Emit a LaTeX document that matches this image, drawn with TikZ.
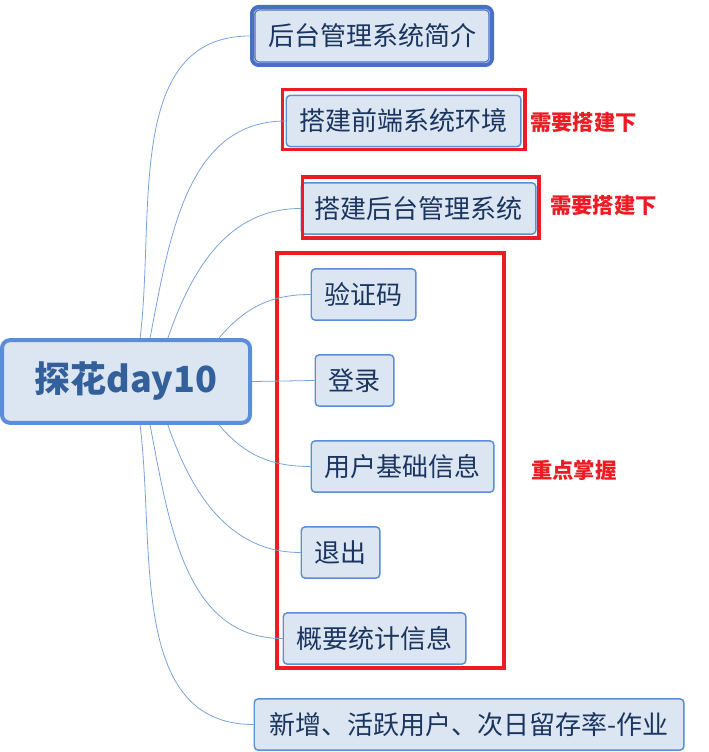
\documentclass[tikz,border=0pt]{standalone}
\usepackage{fontspec}
\setmainfont{Noto Sans CJK SC}
\definecolor{topicfill}{HTML}{DCE6F2}
\definecolor{topicline}{HTML}{5B8ED6}
\definecolor{topictext}{HTML}{1A3560}
\definecolor{roottext}{HTML}{33609A}
\definecolor{firstline}{HTML}{4A70C2}
\definecolor{branchline}{HTML}{7AA3DC}
\definecolor{notered}{HTML}{ED1C24}

\begin{document}
\begin{tikzpicture}[x=0.75pt,y=0.75pt,
topic/.style={draw=topicline,fill=topicfill,rounded corners=3pt,line width=1.1pt,inner xsep=10pt,minimum height=38.5pt,text=topictext,font=\fontsize{19.5}{19.5}\selectfont,anchor=west},
roottopic/.style={draw=topicline,fill=topicfill,rounded corners=6pt,line width=3pt,minimum width=186pt,minimum height=62pt,text=roottext,font=\bfseries\fontsize{27}{27}\selectfont},
branch/.style={draw=branchline,line width=0.6pt},
redbox/.style={draw=notered,line width=2.8pt},
note/.style={text=notered,font=\bfseries\fontsize{16}{16}\selectfont,anchor=west,inner sep=0pt}]

\useasboundingbox (0,0) rectangle (708,-752);

\draw (126,-381.5) node[roottopic] (root) {探花day10};

\draw (250,-36) node[topic,draw=firstline,line width=3pt,rounded corners=5pt,minimum height=43.5pt,inner xsep=12pt] (intro) {后台管理系统简介};
\draw[draw=firstline,line width=0.8pt,rounded corners=3pt] ([shift={(5,-5)}]intro.north west) rectangle ([shift={(-5,5)}]intro.south east);

\draw (285.5,-121) node[topic] (front) {搭建前端系统环境};
\draw (300.5,-208.5) node[topic] (back) {搭建后台管理系统};

\draw (310.5,-294.5) node[topic] (captcha) {验证码};
\draw (314.5,-380.5) node[topic] (login) {登录};
\draw (310.5,-466.5) node[topic] (userinfo) {用户基础信息};
\draw (300.5,-552.5) node[topic] (logout) {退出};
\draw (282.5,-638.5) node[topic] (summary) {概要统计信息};
\draw (253.5,-724.5) node[topic,inner xsep=11.5pt] (homework) {新增、活跃用户、次日留存率-作业};

\draw[redbox] ([shift={(-3,5)}]front.north west) rectangle ([shift={(3,-2)}]front.south east);
\draw[redbox] ([shift={(2,5)}]back.north west) rectangle ([shift={(2,-3)}]back.south east);
\draw[redbox] (277,-253) rectangle (504,-668);

\draw (530,-122) node[note] (todo1) {需要搭建下};
\draw (550,-205) node[note] (todo2) {需要搭建下};
\draw (531,-470) node[note] (focus) {重点掌握};

\draw[branch] (root.72) to[out=83,in=180] (intro.west);
\draw[branch] (root.61) to[out=79,in=180] (front.west);
\draw[branch] (root.46) to[out=71,in=180] (back.west);
\draw[branch] (root.25) to[out=50,in=180] (captcha.west);
\draw[branch] (root.east) -- (login.west);
\draw[branch] (root.-25) to[out=-50,in=180] (userinfo.west);
\draw[branch] (root.-46) to[out=-71,in=180] (logout.west);
\draw[branch] (root.-61) to[out=-79,in=180] (summary.west);
\draw[branch] (root.-72) to[out=-83,in=180] (homework.west);

\end{tikzpicture}
\end{document}
